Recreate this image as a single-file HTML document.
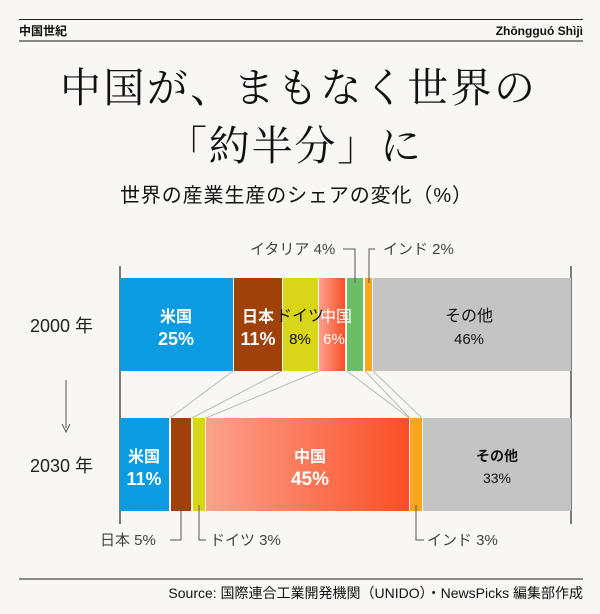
<!DOCTYPE html>
<html><head><meta charset="utf-8"><style>
body{margin:0;background:#f8f7f3;}
svg{display:block}
.s{font-family:"Liberation Sans","Noto Sans CJK JP",sans-serif}
.m{font-family:"Liberation Serif","Noto Serif CJK SC",serif}
</style></head><body>
<svg width="600" height="614" viewBox="0 0 600 614" xmlns="http://www.w3.org/2000/svg">
<defs>
<linearGradient id="cn" x1="0" x2="1" y1="0" y2="0"><stop offset="0" stop-color="#fba28c"/><stop offset="1" stop-color="#fb4e26"/></linearGradient>
</defs>
<rect width="600" height="614" fill="#f8f7f3"/>
<line x1="19" y1="19.5" x2="583" y2="19.5" stroke="#222" stroke-width="1"/>
<line x1="19" y1="41" x2="583" y2="41" stroke="#666" stroke-width="1.5"/>
<text class="s" x="19" y="35" font-size="12" font-weight="bold" fill="#111">中国世紀</text>
<text class="s" x="583" y="35" font-size="12" font-weight="bold" fill="#111" text-anchor="end">Zhōngguó Shìjì</text>
<text class="m" x="60" y="102" font-size="41" fill="#111" textLength="475" lengthAdjust="spacing">中国が、まもなく世界の</text>
<text class="m" x="166" y="160" font-size="41" fill="#111" textLength="255" lengthAdjust="spacing">「約半分」に</text>
<text class="s" x="120" y="202" font-size="20" fill="#111" textLength="352" lengthAdjust="spacing">世界の産業生産のシェアの変化（%）</text>

<line x1="120" y1="266" x2="120" y2="524" stroke="#555" stroke-width="1.5"/>
<line x1="571" y1="266" x2="571" y2="524" stroke="#555" stroke-width="1.5"/>
<line x1="66" y1="380" x2="66" y2="428" stroke="#555" stroke-width="1"/>
<path d="M62 424 L66 432 L70 424" fill="none" stroke="#555" stroke-width="1"/>
<text class="s" x="30" y="332" font-size="18" fill="#222">2000 年</text>
<text class="s" x="30" y="472" font-size="18" fill="#222">2030 年</text>

<g stroke="#bbb" stroke-width="1" fill="none">
<line x1="233" y1="371" x2="170" y2="418"/>
<line x1="282" y1="371" x2="192" y2="418"/>
<line x1="319" y1="371" x2="206" y2="418"/>
<line x1="347" y1="371" x2="409" y2="418"/>
<line x1="365" y1="371" x2="410" y2="418"/>
<line x1="373" y1="371" x2="422" y2="418"/>
</g>

<rect x="120" y="278" width="113" height="93" fill="#0a9be0"/>
<rect x="234" y="278" width="48" height="93" fill="#a0410a"/>
<rect x="283" y="278" width="35" height="93" fill="#d9d61a"/>
<rect x="319" y="278" width="26" height="93" fill="url(#cn)"/>
<rect x="347" y="278" width="16" height="93" fill="#6cbd68"/>
<rect x="365" y="278" width="7" height="93" fill="#fba41e"/>
<rect x="373" y="278" width="198" height="93" fill="#c4c4c4"/>
<g class="s" font-size="16" text-anchor="middle">
<text x="176" y="322" fill="#fff" font-weight="bold">米国</text><text x="176" y="345" fill="#fff" font-size="18" font-weight="bold">25%</text>
<text x="258" y="322" fill="#fff" font-weight="bold">日本</text><text x="258" y="345" fill="#fff" font-size="18" font-weight="bold">11%</text>
<text x="300" y="321" fill="#111">ドイツ</text><text x="300" y="344" fill="#111" font-size="15">8%</text>
<text x="336" y="322" fill="#fff">中国</text><text x="334" y="344" fill="#fff" font-size="15">6%</text>
<text x="469" y="321" fill="#111">その他</text><text x="469" y="344" fill="#111" font-size="15">46%</text>
</g>
<g stroke="#555" stroke-width="1" fill="none">
<path d="M343 249 H355 V283"/>
<path d="M375 249 H369 V283"/>
</g>
<text class="s" x="250" y="254" font-size="15" fill="#444">イタリア 4%</text>
<text class="s" x="383" y="254" font-size="15" fill="#444">インド 2%</text>

<rect x="120" y="418" width="49" height="93" fill="#0a9be0"/>
<rect x="171" y="418" width="20" height="93" fill="#a0410a"/>
<rect x="193" y="418" width="12" height="93" fill="#d9d61a"/>
<rect x="206" y="418" width="203" height="93" fill="url(#cn)"/>
<rect x="410" y="418" width="12" height="93" fill="#fba41e"/>
<rect x="423" y="418" width="148" height="93" fill="#c4c4c4"/>
<g class="s" font-size="16" text-anchor="middle">
<text x="144" y="462" fill="#fff" font-weight="bold">米国</text><text x="144" y="485" fill="#fff" font-size="18" font-weight="bold">11%</text>
<text x="310" y="462" fill="#fff" font-weight="bold">中国</text><text x="310" y="485" fill="#fff" font-size="19" font-weight="bold">45%</text>
<text x="497" y="461" fill="#111" font-size="14" font-weight="bold">その他</text><text x="497" y="483" fill="#111" font-size="14">33%</text>
</g>
<g stroke="#555" stroke-width="1" fill="none">
<path d="M181 505 V540 H170"/>
<path d="M199 505 V540 H206"/>
<path d="M416 505 V540 H424"/>
</g>
<text class="s" x="100" y="545" font-size="15" fill="#444">日本 5%</text>
<text class="s" x="210" y="545" font-size="15" fill="#444">ドイツ 3%</text>
<text class="s" x="427" y="545" font-size="15" fill="#444">インド 3%</text>

<line x1="19" y1="579" x2="583" y2="579" stroke="#666" stroke-width="1.5"/>
<text class="s" x="583" y="598" font-size="14" fill="#111" text-anchor="end">Source: 国際連合工業開発機関（UNIDO）・NewsPicks 編集部作成</text>
</svg>
</body></html>
